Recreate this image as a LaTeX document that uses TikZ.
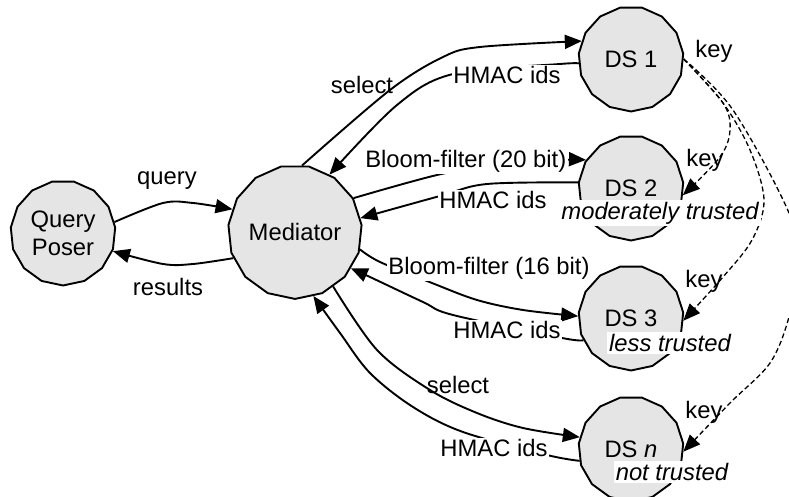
\documentclass[tikz,border=0pt]{standalone}
\usepackage{fontspec}
\setmainfont{Liberation Sans}
\usetikzlibrary{shapes.geometric,arrows.meta}
\definecolor{partyfill}{RGB}{229,229,229}
\begin{document}
\begin{tikzpicture}[x=1pt,y=1pt,
  every node/.style={font=\fontsize{23.8}{28}\selectfont},
  party/.style={regular polygon, regular polygon sides=15, shape border rotate=180, minimum size=105pt, inner sep=0pt, draw=black, line width=1.9pt, fill=partyfill, align=center},
  flow/.style={draw=black, line width=1.9pt, -{Triangle[length=17pt,width=14pt]}},
  keyflow/.style={draw=black, line width=1.3pt, dash pattern=on 5pt off 3pt, -{Triangle[length=17pt,width=14pt]}},
  lbl/.style={inner sep=1.5pt, fill=white},
  txt/.style={inner sep=1pt},
  trust/.style={inner sep=2pt, fill=white, font=\fontsize{23.8}{28}\selectfont\itshape}]
\useasboundingbox (0,0) rectangle (789,497);
\fill[white] (0,0) rectangle (789,497);

% parties
\node[party] (QP) at (63,264) {Query\\Poser};
\node[party] (Med) at (295,265) {Mediator};
\node[party] (DS1) at (631,438) {DS 1};
\node[party] (DS2) at (631,309) {DS 2};
\node[party] (DS3) at (631,179) {DS 3};
\node[party] (DSn) at (631,48) {DS \textit{n}};

% query poser <-> mediator
\draw[flow] plot[smooth, tension=0.55] coordinates {(QP.12) (163,294) (193,294) (Med.160)};
\draw[flow] plot[smooth, tension=0.55] coordinates {(Med.203) (193,233) (163,233) (QP.-20)};

% DS 1
\draw[flow] plot[smooth, tension=0.55] coordinates {(Med.84) (390,407) (443,440) (480,450) (DS1.160)};
\draw[flow] plot[smooth, tension=0.55] coordinates {(DS1.185) (560,433) (453,423) (397,392) (Med.59)};

% DS 2
\draw[flow] plot[smooth, tension=0.55] coordinates {(Med.30) (437,322) (500,333) (560,337) (DS2.148)};
\draw[flow] plot[smooth, tension=0.55] coordinates {(DS2.174) (487,313) (440,301) (Med.12)};

% DS 3
\draw[flow] plot[smooth, tension=0.55] coordinates {(Med.-15) (380,235) (432,214) (477,197) (523,187) (DS3.178)};
\draw[flow] plot[smooth, tension=0.55] coordinates {(DS3.205) (562,159) (453,182) (423,195) (370,220) (Med.-33)};

% DS n
\draw[flow] plot[smooth, tension=0.55] coordinates {(Med.-55) (377,147) (430,107) (477,84) (523,69) (DSn.167)};
\draw[flow] plot[smooth, tension=0.55] coordinates {(DSn.193) (547,42) (463,65) (413,90) (370,124) (340,164) (Med.-74)};

% keys
\draw[keyflow] plot[smooth, tension=0.55] coordinates {(DS1.0) (723,394) (730,367) (720,340) (DS2.-8)};
\draw[keyflow] plot[smooth, tension=0.55] coordinates {(DS1.0) (723,394) (750,347) (764,297) (752,257) (723,220) (DS3.-3)};
\draw[keyflow] plot[smooth, tension=0.55] coordinates {(DS1.0) (733,387) (789,284) (798,232) (789,180) (770,134) (730,94) (DSn.-3)};

% labels
\node[txt] (lq) at (167,316) {query};
\node[txt] (lr) at (168,210) {results};
\node[txt] (ls1) at (362,412) {select};
\node[lbl] (lh1) at (507,422) {HMAC ids};
\node[lbl, anchor=east] (lb20) at (568,336) {Bloom-filter (20 bit)};
\node[lbl] (lh2) at (493,297) {HMAC ids};
\node[lbl] (lb16) at (489,229) {Bloom-filter (16 bit)};
\node[lbl] (lh3) at (507,167) {HMAC ids};
\node[txt] (ls2) at (458,112) {select};
\node[lbl] (lhn) at (494,49) {HMAC ids};

\node[txt] (k1) at (714,446) {key};
\node[txt] (k2) at (705,337) {key};
\node[txt] (k3) at (704,216) {key};
\node[txt] (kn) at (704,85) {key};

% trust levels
\node[trust] (t2) at (660,284) {moderately trusted};
\node[trust] (t3) at (670,154) {less trusted};
\node[trust] (tn) at (672,25) {not trusted};
\end{tikzpicture}
\end{document}
